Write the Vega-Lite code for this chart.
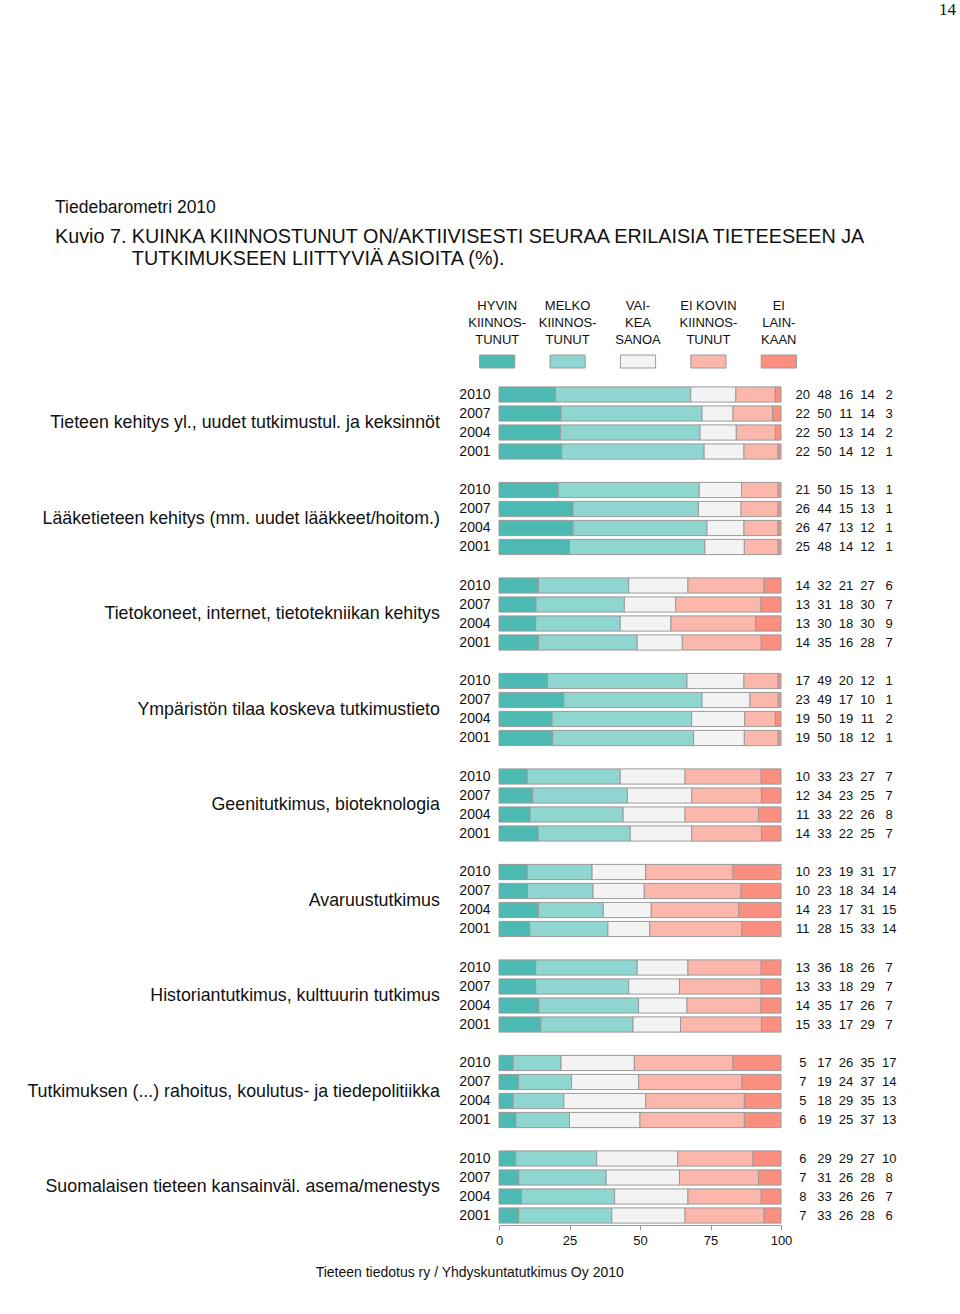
{
  "$schema": "https://vega.github.io/schema/vega-lite/v6.json",
  "background": "white",
  "padding": {"left": 27, "top": 0, "right": 0, "bottom": 0},
  "title": {"text": "14", "anchor": "end", "font": "Liberation Serif", "fontSize": 17, "fontWeight": "normal", "color": "#111111", "dx": 56, "offset": 180},
  "datasets": {
    "legend": [
      {"resp": "r1", "label": "HYVIN|KIINNOS-|TUNUT"},
      {"resp": "r2", "label": "MELKO|KIINNOS-|TUNUT"},
      {"resp": "r3", "label": "VAI-|KEA|SANOA"},
      {"resp": "r4", "label": "EI KOVIN|KIINNOS-|TUNUT"},
      {"resp": "r5", "label": "EI|LAIN-|KAAN"}
    ],
    "survey": [
      {"topic": "Tieteen kehitys yl., uudet tutkimustul. ja keksinnöt", "year": "2010", "r1": 20, "r2": 48, "r3": 16, "r4": 14, "r5": 2},
      {"topic": "Tieteen kehitys yl., uudet tutkimustul. ja keksinnöt", "year": "2007", "r1": 22, "r2": 50, "r3": 11, "r4": 14, "r5": 3},
      {"topic": "Tieteen kehitys yl., uudet tutkimustul. ja keksinnöt", "year": "2004", "r1": 22, "r2": 50, "r3": 13, "r4": 14, "r5": 2},
      {"topic": "Tieteen kehitys yl., uudet tutkimustul. ja keksinnöt", "year": "2001", "r1": 22, "r2": 50, "r3": 14, "r4": 12, "r5": 1},
      {"topic": "Lääketieteen kehitys (mm. uudet lääkkeet/hoitom.)", "year": "2010", "r1": 21, "r2": 50, "r3": 15, "r4": 13, "r5": 1},
      {"topic": "Lääketieteen kehitys (mm. uudet lääkkeet/hoitom.)", "year": "2007", "r1": 26, "r2": 44, "r3": 15, "r4": 13, "r5": 1},
      {"topic": "Lääketieteen kehitys (mm. uudet lääkkeet/hoitom.)", "year": "2004", "r1": 26, "r2": 47, "r3": 13, "r4": 12, "r5": 1},
      {"topic": "Lääketieteen kehitys (mm. uudet lääkkeet/hoitom.)", "year": "2001", "r1": 25, "r2": 48, "r3": 14, "r4": 12, "r5": 1},
      {"topic": "Tietokoneet, internet, tietotekniikan kehitys", "year": "2010", "r1": 14, "r2": 32, "r3": 21, "r4": 27, "r5": 6},
      {"topic": "Tietokoneet, internet, tietotekniikan kehitys", "year": "2007", "r1": 13, "r2": 31, "r3": 18, "r4": 30, "r5": 7},
      {"topic": "Tietokoneet, internet, tietotekniikan kehitys", "year": "2004", "r1": 13, "r2": 30, "r3": 18, "r4": 30, "r5": 9},
      {"topic": "Tietokoneet, internet, tietotekniikan kehitys", "year": "2001", "r1": 14, "r2": 35, "r3": 16, "r4": 28, "r5": 7},
      {"topic": "Ympäristön tilaa koskeva tutkimustieto", "year": "2010", "r1": 17, "r2": 49, "r3": 20, "r4": 12, "r5": 1},
      {"topic": "Ympäristön tilaa koskeva tutkimustieto", "year": "2007", "r1": 23, "r2": 49, "r3": 17, "r4": 10, "r5": 1},
      {"topic": "Ympäristön tilaa koskeva tutkimustieto", "year": "2004", "r1": 19, "r2": 50, "r3": 19, "r4": 11, "r5": 2},
      {"topic": "Ympäristön tilaa koskeva tutkimustieto", "year": "2001", "r1": 19, "r2": 50, "r3": 18, "r4": 12, "r5": 1},
      {"topic": "Geenitutkimus, bioteknologia", "year": "2010", "r1": 10, "r2": 33, "r3": 23, "r4": 27, "r5": 7},
      {"topic": "Geenitutkimus, bioteknologia", "year": "2007", "r1": 12, "r2": 34, "r3": 23, "r4": 25, "r5": 7},
      {"topic": "Geenitutkimus, bioteknologia", "year": "2004", "r1": 11, "r2": 33, "r3": 22, "r4": 26, "r5": 8},
      {"topic": "Geenitutkimus, bioteknologia", "year": "2001", "r1": 14, "r2": 33, "r3": 22, "r4": 25, "r5": 7},
      {"topic": "Avaruustutkimus", "year": "2010", "r1": 10, "r2": 23, "r3": 19, "r4": 31, "r5": 17},
      {"topic": "Avaruustutkimus", "year": "2007", "r1": 10, "r2": 23, "r3": 18, "r4": 34, "r5": 14},
      {"topic": "Avaruustutkimus", "year": "2004", "r1": 14, "r2": 23, "r3": 17, "r4": 31, "r5": 15},
      {"topic": "Avaruustutkimus", "year": "2001", "r1": 11, "r2": 28, "r3": 15, "r4": 33, "r5": 14},
      {"topic": "Historiantutkimus, kulttuurin tutkimus", "year": "2010", "r1": 13, "r2": 36, "r3": 18, "r4": 26, "r5": 7},
      {"topic": "Historiantutkimus, kulttuurin tutkimus", "year": "2007", "r1": 13, "r2": 33, "r3": 18, "r4": 29, "r5": 7},
      {"topic": "Historiantutkimus, kulttuurin tutkimus", "year": "2004", "r1": 14, "r2": 35, "r3": 17, "r4": 26, "r5": 7},
      {"topic": "Historiantutkimus, kulttuurin tutkimus", "year": "2001", "r1": 15, "r2": 33, "r3": 17, "r4": 29, "r5": 7},
      {"topic": "Tutkimuksen (...) rahoitus, koulutus- ja tiedepolitiikka", "year": "2010", "r1": 5, "r2": 17, "r3": 26, "r4": 35, "r5": 17},
      {"topic": "Tutkimuksen (...) rahoitus, koulutus- ja tiedepolitiikka", "year": "2007", "r1": 7, "r2": 19, "r3": 24, "r4": 37, "r5": 14},
      {"topic": "Tutkimuksen (...) rahoitus, koulutus- ja tiedepolitiikka", "year": "2004", "r1": 5, "r2": 18, "r3": 29, "r4": 35, "r5": 13},
      {"topic": "Tutkimuksen (...) rahoitus, koulutus- ja tiedepolitiikka", "year": "2001", "r1": 6, "r2": 19, "r3": 25, "r4": 37, "r5": 13},
      {"topic": "Suomalaisen tieteen kansainväl. asema/menestys", "year": "2010", "r1": 6, "r2": 29, "r3": 29, "r4": 27, "r5": 10},
      {"topic": "Suomalaisen tieteen kansainväl. asema/menestys", "year": "2007", "r1": 7, "r2": 31, "r3": 26, "r4": 28, "r5": 8},
      {"topic": "Suomalaisen tieteen kansainväl. asema/menestys", "year": "2004", "r1": 8, "r2": 33, "r3": 26, "r4": 26, "r5": 7},
      {"topic": "Suomalaisen tieteen kansainväl. asema/menestys", "year": "2001", "r1": 7, "r2": 33, "r3": 26, "r4": 28, "r5": 6}
    ]
  },
  "spacing": 16,
  "vconcat": [
    {
      "data": {"name": "legend"},
      "title": {
        "text": "Tiedebarometri 2010",
        "subtitle": ["Kuvio 7. KUINKA KIINNOSTUNUT ON/AKTIIVISESTI SEURAA ERILAISIA TIETEESEEN JA", "\u200b\u00a0\u00a0\u00a0\u00a0\u00a0\u00a0\u00a0\u00a0\u00a0\u00a0\u00a0\u00a0\u00a0\u00a0TUTKIMUKSEEN LIITTYVIÄ ASIOITA (%)."],
        "anchor": "start",
        "frame": "bounds",
        "dx": 0,
        "fontSize": 17.5,
        "fontWeight": "normal",
        "color": "#111111",
        "subtitleFontSize": 19.75,
        "subtitleColor": "#111111",
        "subtitlePadding": 11,
        "subtitleLineHeight": 22,
        "offset": 30
      },
      "width": 352,
      "height": 13,
      "mark": {"type": "bar", "stroke": "#9a9a9a", "strokeWidth": 1, "xOffset": -37},
      "encoding": {
        "x": {
          "field": "label", "type": "nominal", "sort": null,
          "scale": {"paddingInner": 0.5, "paddingOuter": 0.25},
          "axis": {"orient": "top", "title": null, "domain": false, "ticks": false, "labelAngle": 0, "labelOverlap": false, "labelBaseline": "bottom", "labelOffset": -37, "labelExpr": "split(datum.label, '|')", "labelFontSize": 13, "labelLineHeight": 17, "labelPadding": 43, "labelColor": "#111111"}
        },
        "y": {
          "datum": "legend", "type": "nominal",
          "scale": {"paddingInner": 0, "paddingOuter": 0},
          "axis": {"title": null, "labels": false, "ticks": false, "domain": false, "minExtent": 444, "maxExtent": 444}
        },
        "color": {
          "field": "resp", "type": "nominal",
          "scale": {"domain": ["r1", "r2", "r3", "r4", "r5"], "range": ["#4cbab3", "#8fd5d0", "#f3f3f3", "#fbb7ab", "#fa8f7f"]},
          "legend": null
        }
      }
    },
    {
      "spacing": 0,
      "title": {"text": "Tieteen tiedotus ry / Yhdyskuntatutkimus Oy 2010", "orient": "bottom", "anchor": "middle", "fontSize": 14, "fontWeight": "normal", "color": "#111111", "offset": 19, "dx": 6},
      "hconcat": [
        {
          "data": {"name": "survey"},
          "transform": [{"fold": ["r1", "r2", "r3", "r4", "r5"], "as": ["resp", "value"]}],
          "spacing": {"row": 19.5},
          "facet": {
            "row": {
              "field": "topic", "type": "nominal",
              "sort": ["Tieteen kehitys yl., uudet tutkimustul. ja keksinnöt", "Lääketieteen kehitys (mm. uudet lääkkeet/hoitom.)", "Tietokoneet, internet, tietotekniikan kehitys", "Ympäristön tilaa koskeva tutkimustieto", "Geenitutkimus, bioteknologia", "Avaruustutkimus", "Historiantutkimus, kulttuurin tutkimus", "Tutkimuksen (...) rahoitus, koulutus- ja tiedepolitiikka", "Suomalaisen tieteen kansainväl. asema/menestys"],
              "header": {"title": null, "labelOrient": "left", "labelAngle": 0, "labelAlign": "left", "labelBaseline": "middle", "labelFontSize": 17.8, "labelPadding": 19, "labelColor": "#111111", "labelFont": "Liberation Sans"}
            }
          },
          "spec": {
            "width": 282,
            "height": 76,
            "mark": {"type": "bar", "stroke": "#9a9a9a", "strokeWidth": 1},
            "encoding": {
              "y": {
                "field": "year", "type": "nominal", "sort": "descending",
                "scale": {"paddingInner": 0.2, "paddingOuter": 0.1},
                "axis": {"title": null, "domain": false, "ticks": false, "tickSize": 0, "labelPadding": 8, "labelFontSize": 14, "labelColor": "#111111"}
              },
              "x": {
                "field": "value", "type": "quantitative", "stack": "normalize",
                "scale": {"domain": [0, 1]},
                "axis": {"title": null, "values": [0, 0.25, 0.5, 0.75, 1], "labelExpr": "format(datum.value * 100, 'd')", "grid": false, "domainColor": "#999999", "tickColor": "#999999", "tickSize": 5, "labelFontSize": 13, "labelPadding": 4, "labelFlush": false, "labelColor": "#111111"}
              },
              "color": {
                "field": "resp", "type": "nominal",
                "scale": {"domain": ["r1", "r2", "r3", "r4", "r5"], "range": ["#4cbab3", "#8fd5d0", "#f3f3f3", "#fbb7ab", "#fa8f7f"]},
                "legend": null
              },
              "order": {"field": "resp", "sort": "ascending"}
            }
          }
        },
        {
          "data": {"name": "survey"},
          "transform": [{"fold": ["r1", "r2", "r3", "r4", "r5"], "as": ["resp", "value"]}],
          "spacing": {"row": 19.5},
          "facet": {
            "row": {
              "field": "topic", "type": "nominal",
              "sort": ["Tieteen kehitys yl., uudet tutkimustul. ja keksinnöt", "Lääketieteen kehitys (mm. uudet lääkkeet/hoitom.)", "Tietokoneet, internet, tietotekniikan kehitys", "Ympäristön tilaa koskeva tutkimustieto", "Geenitutkimus, bioteknologia", "Avaruustutkimus", "Historiantutkimus, kulttuurin tutkimus", "Tutkimuksen (...) rahoitus, koulutus- ja tiedepolitiikka", "Suomalaisen tieteen kansainväl. asema/menestys"],
              "header": {"title": null, "labels": false}
            }
          },
          "spec": {
            "width": 108,
            "height": 76,
            "mark": {"type": "text", "fontSize": 13, "color": "#111111"},
            "encoding": {
              "x": {"field": "resp", "type": "nominal", "scale": {"paddingInner": 0, "paddingOuter": 0}, "axis": null},
              "y": {"field": "year", "type": "nominal", "sort": "descending", "scale": {"paddingInner": 0.2, "paddingOuter": 0.1}, "axis": null},
              "text": {"field": "value", "type": "quantitative"}
            }
          }
        }
      ]
    }
  ],
  "config": {
    "font": "Liberation Sans",
    "view": {"stroke": null},
    "axis": {"labelFont": "Liberation Sans", "grid": false},
    "title": {"font": "Liberation Sans"}
  }
}
